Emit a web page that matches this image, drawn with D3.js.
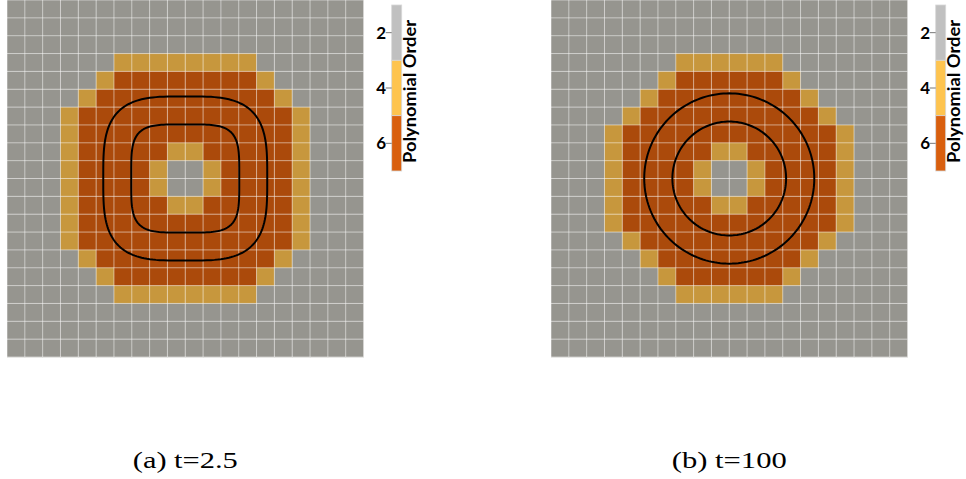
<!DOCTYPE html>
<html>
<head>
<meta charset="utf-8" />
<title>Polynomial order</title>
<style>
    body { margin: 0; background: #fff; }
    svg { display: block; }
</style>
</head>
<body>
<div id="chart"></div>
<script src="https://cdn.jsdelivr.net/npm/d3@7"></script>
<script>
    // polynomial order per cell, row by row (top to bottom), 20 x 20
    const orderA = [
        "22222222222222222222",
        "22222222222222222222",
        "22222222222222222222",
        "22222244444444222222",
        "22222466666666422222",
        "22224666666666642222",
        "22246666666666664222",
        "22246666666666664222",
        "22246666644666664222",
        "22246666422466664222",
        "22246666422466664222",
        "22246666644666664222",
        "22246666666666664222",
        "22246666666666664222",
        "22224666666666642222",
        "22222466666666422222",
        "22222244444444222222",
        "22222222222222222222",
        "22222222222222222222",
        "22222222222222222222"
    ];
    const orderB = [
        "22222222222222222222",
        "22222222222222222222",
        "22222222222222222222",
        "22222224444442222222",
        "22222246666664222222",
        "22222466666666422222",
        "22224666666666642222",
        "22246666666666664222",
        "22246666644666664222",
        "22246666422466664222",
        "22246666422466664222",
        "22246666644666664222",
        "22246666666666664222",
        "22224666666666642222",
        "22222466666666422222",
        "22222246666664222222",
        "22222224444442222222",
        "22222222222222222222",
        "22222222222222222222",
        "22222222222222222222"
    ];
    const orderLevels = [2, 4, 6];
    // contour lines in cell units (radius, superellipse exponent)
    const contoursA = [{ r: 4.6, n: 3.4 }, { r: 3.03, n: 4.3 }];
    const contoursB = [{ r: 4.77, n: 2 }, { r: 3.19, n: 2 }];
    const captions = ["(a) t=2.5", "(b) t=100"];
    const legendTitle = "Polynomial Order";

    const width = 966, height = 479;
    const gridW = 356.5, gridH = 357;
    const cellFill = d3.scaleOrdinal(orderLevels, ["#96958f", "#c7973d", "#ab4a0b"]);
    const barFill = d3.scaleOrdinal(orderLevels, ["#c0c0c0", "#fec44f", "#d95f0e"]);

    const svg = d3.select("#chart").append("svg")
        .attr("width", width)
        .attr("height", height);

    const panels = [
        { x0: 7, order: orderA, contours: contoursA, caption: captions[0], capW: 105 },
        { x0: 551, order: orderB, contours: contoursB, caption: captions[1], capW: 115 }
    ];

    panels.forEach(p => {
        const x = d3.scaleLinear().domain([0, 20]).range([p.x0, p.x0 + gridW]);
        const y = d3.scaleLinear().domain([0, 20]).range([0, gridH]);
        const g = svg.append("g");

        const cells = p.order.flatMap((row, r) => row.split("").map((c, k) => ({ r, k, v: +c })));
        g.append("g").selectAll("rect")
            .data(cells)
            .join("rect")
            .attr("x", d => x(d.k))
            .attr("y", d => y(d.r))
            .attr("width", x(1) - x(0) + 0.3)
            .attr("height", y(1) - y(0) + 0.3)
            .attr("fill", d => cellFill(d.v));

        // thin light grid lines
        const gl = g.append("g")
            .attr("stroke", "#fff")
            .attr("stroke-opacity", 0.5)
            .attr("stroke-width", 1);
        gl.selectAll(".v").data(d3.range(0, 21)).join("line")
            .attr("class", "v")
            .attr("x1", d => x(d)).attr("x2", d => x(d))
            .attr("y1", y(0)).attr("y2", y(20));
        gl.selectAll(".h").data(d3.range(0, 21)).join("line")
            .attr("class", "h")
            .attr("y1", d => y(d)).attr("y2", d => y(d))
            .attr("x1", x(0)).attr("x2", x(20));

        // contours
        const line = d3.line().curve(d3.curveLinearClosed);
        const angles = d3.range(0, 360, 2).map(a => a * Math.PI / 180);
        g.append("g")
            .attr("fill", "none")
            .attr("stroke", "#000")
            .attr("stroke-width", 2)
            .selectAll("path")
            .data(p.contours)
            .join("path")
            .attr("d", c => line(angles.map(t => {
                const ct = Math.cos(t), st = Math.sin(t);
                const px = 10 + c.r * Math.sign(ct) * Math.pow(Math.abs(ct), 2 / c.n);
                const py = 10 + c.r * Math.sign(st) * Math.pow(Math.abs(st), 2 / c.n);
                return [x(px), y(py)];
            })));

        // colour legend
        const lx = p.x0 + 384.7;
        const ly = d3.scaleLinear().domain([1, 7]).range([5, 171]);
        const lg = svg.append("g");
        lg.selectAll("rect")
            .data(orderLevels)
            .join("rect")
            .attr("x", lx)
            .attr("y", d => ly(d - 1))
            .attr("width", 10)
            .attr("height", d => ly(d + 1) - ly(d - 1))
            .attr("fill", d => barFill(d))
            .attr("stroke", "#d8d8d8")
            .attr("stroke-width", 0.8);
        lg.selectAll("line")
            .data(orderLevels)
            .join("line")
            .attr("x1", lx - 6).attr("x2", lx)
            .attr("y1", d => ly(d)).attr("y2", d => ly(d))
            .attr("stroke", "#777")
            .attr("stroke-width", 1);
        lg.selectAll("text.tick")
            .data(orderLevels)
            .join("text")
            .attr("class", "tick")
            .attr("x", lx - 5.5)
            .attr("y", d => ly(d))
            .attr("dy", "0.36em")
            .attr("text-anchor", "end")
            .attr("font-family", "Lato, sans-serif")
            .attr("font-weight", "bold")
            .attr("font-size", 17)
            .text(d => d);
        lg.append("text")
            .attr("transform", `translate(${lx + 24},163) rotate(-90)`)
            .attr("font-family", "Lato, sans-serif")
            .attr("font-weight", "bold")
            .attr("font-size", 16.5)
            .attr("textLength", 143)
            .attr("lengthAdjust", "spacingAndGlyphs")
            .attr("fill", "#000")
            .text(legendTitle);

        // caption
        svg.append("text")
            .attr("x", x(10))
            .attr("y", 468)
            .attr("text-anchor", "middle")
            .attr("font-family", "'Liberation Serif', serif")
            .attr("font-size", 23)
            .attr("textLength", p.capW)
            .attr("lengthAdjust", "spacingAndGlyphs")
            .text(p.caption);
    });
</script>
</body>
</html>
